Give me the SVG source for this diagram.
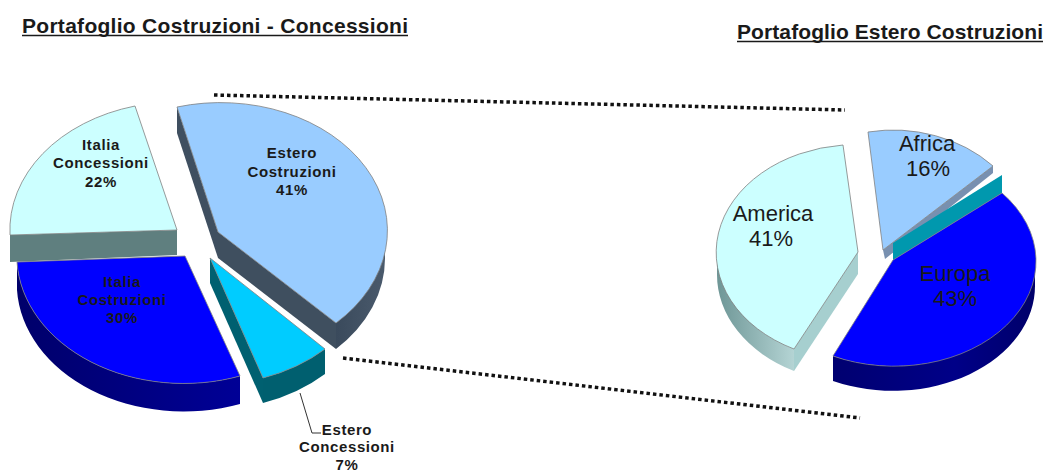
<svg xmlns="http://www.w3.org/2000/svg" width="1053" height="471" viewBox="0 0 1053 471">
<style>
.title{font-family:"Liberation Sans",Arial,sans-serif;font-size:21px;font-weight:bold;fill:#1a1a1a}
.lbl{font-family:"Liberation Sans",Arial,sans-serif;font-size:15px;font-weight:bold;fill:#1a1a1a;text-anchor:middle;letter-spacing:0.6px}
.big{font-family:"Liberation Sans",Arial,sans-serif;font-size:22px;fill:#1a1a1a;text-anchor:middle}
.top{stroke:#808080;stroke-width:0.8}
.dots{stroke:#111;stroke-width:3.5;stroke-dasharray:3.5 3;fill:none}
</style>
<defs>
<linearGradient id="gBlue" x1="0" y1="0" x2="1" y2="0">
<stop offset="0" stop-color="#00006A"/><stop offset="1" stop-color="#000096"/>
</linearGradient>
<linearGradient id="gGray" x1="0" y1="0" x2="1" y2="0">
<stop offset="0" stop-color="#3A4A5C"/><stop offset="1" stop-color="#4A5A6C"/>
</linearGradient>
<linearGradient id="gAm" x1="0" y1="0" x2="1" y2="0">
<stop offset="0" stop-color="#6E9696"/><stop offset="1" stop-color="#B4D4D4"/>
</linearGradient>
<linearGradient id="gEu" x1="0" y1="0" x2="1" y2="0">
<stop offset="0" stop-color="#000070"/><stop offset="0.6" stop-color="#000088"/><stop offset="1" stop-color="#00006A"/>
</linearGradient>
</defs>
<rect width="1053" height="471" fill="#fff"/>

<g id="title-left">
<text class="title" x="22" y="33" textLength="386" lengthAdjust="spacing">Portafoglio Costruzioni - Concessioni</text>
<line x1="22" y1="35.5" x2="408" y2="35.5" stroke="#1a1a1a" stroke-width="1.6"/>
</g>
<g id="title-right">
<text class="title" x="737" y="39" textLength="306" lengthAdjust="spacing">Portafoglio Estero Costruzioni</text>
<line x1="737" y1="41.5" x2="1043" y2="41.5" stroke="#1a1a1a" stroke-width="1.6"/>
</g>

<g id="slice-italia-concessioni">
<polygon points="10,235 177,230 177,255 10,262" fill="#5F7F7F"/>
<path class="top" d="M177,230 L135,106 A167,128 0 0,0 10,235 Z" fill="#CCFFFF"/>
<text class="lbl" x="101" y="150">Italia</text>
<text class="lbl" x="101" y="168">Concessioni</text>
<text class="lbl" x="101" y="187">22%</text>
</g>

<g id="slice-estero-costruzioni">
<polygon points="177,107 218,232 218,258 177,133" fill="#3F4F60"/>
<polygon points="218,232 336,323 336,349 218,258" fill="#3F4F5F"/>
<path d="M336,323 A167,128 0 0,0 385,232 L385,258 A167,128 0 0,1 336,349 Z" fill="url(#gGray)"/>
<path class="top" d="M218,232 L336,323 A167,128 0 0,0 177,107 Z" fill="#99CCFF"/>
<text class="lbl" x="292" y="158">Estero</text>
<text class="lbl" x="292" y="177">Costruzioni</text>
<text class="lbl" x="292" y="195">41%</text>
</g>

<g id="slice-italia-costruzioni">
<path d="M17,262 A167,128 0 0,0 240,376 L240,404 A167,128 0 0,1 17,290 Z" fill="url(#gBlue)"/>
<path class="top" d="M185,256 L17,262 A167,128 0 0,0 240,376 Z" fill="#0000FF"/>
<text class="lbl" x="122" y="287">Italia</text>
<text class="lbl" x="122" y="305">Costruzioni</text>
<text class="lbl" x="122" y="323">30%</text>
</g>

<g id="slice-estero-concessioni">
<polygon points="210,258 263,378 263,403 210,283" fill="#006070"/>
<path d="M263,378 A165,126 0 0,0 325,349 L325,374 A165,126 0 0,1 263,403 Z" fill="#005F6F"/>
<path class="top" d="M210,258 L263,378 A165,126 0 0,0 325,349 Z" fill="#00CCFF"/>
<text class="lbl" x="347" y="435">Estero</text>
<text class="lbl" x="347" y="452">Concessioni</text>
<text class="lbl" x="347" y="470">7%</text>
</g>

<g id="slice-america">
<path d="M717,252 A141,108 0 0,0 794,349 L794,371 A141,108 0 0,1 717,274 Z" fill="url(#gAm)"/>
<polygon points="858,252 794,349 794,371 858,274" fill="#A6CFCF"/>
<path class="top" d="M858,252 L843,145 A141,108 0 0,0 794,349 Z" fill="#CCFFFF"/>
<text class="big" x="773" y="221">America</text>
<text class="big" x="771" y="246">41%</text>
</g>

<g id="slice-africa">
<polygon points="883,250 993,166 993,173 885,259" fill="#7890B0"/>
<path class="top" d="M883,250 L868,132 A141,122 0 0,1 993,166 Z" fill="#99CCFF"/>
<text class="big" x="927" y="151">Africa</text>
<text class="big" x="928" y="176">16%</text>
</g>

<g id="slice-europa">
<polygon points="893,243 1002,175 1002,193 893,260" fill="#0098AE"/>
<path d="M833,356 A142,105 0 0,0 1035,260 L1035,285 A142,105 0 0,1 833,381 Z" fill="url(#gEu)"/>
<path class="top" d="M893,260 L833,356 A142,105 0 0,0 1002,193 Z" fill="#0000FF"/>
<text class="big" x="955" y="281">Europa</text>
<text class="big" x="955" y="306">43%</text>
</g>

<g id="connectors">
<line class="dots" x1="214" y1="95" x2="845" y2="110"/>
<line class="dots" x1="343" y1="358" x2="860" y2="418"/>
<polyline points="300,393 312,433 321,433" fill="none" stroke="#333" stroke-width="1"/>
</g>
</svg>
